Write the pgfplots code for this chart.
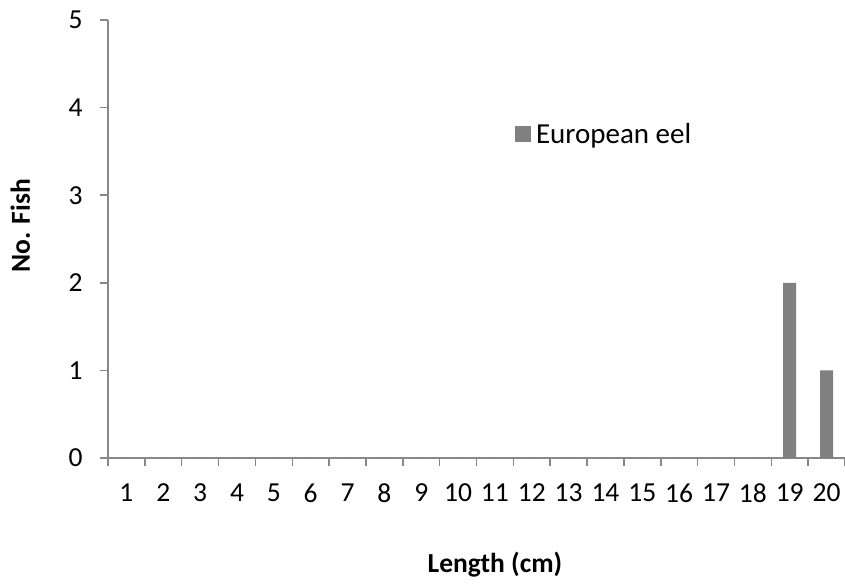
\documentclass[border=0pt]{standalone}
\usepackage{fontspec}
\setmainfont{Carlito}
\usepackage{pgfplots}
\pgfplotsset{compat=1.18}
\definecolor{bargray}{HTML}{808080}
\definecolor{axgray}{HTML}{888888}
\begin{document}
\begin{tikzpicture}
\useasboundingbox (-108pt,-125pt) rectangle (737pt,458pt);
\begin{axis}[
  scale only axis,
  width=737pt, height=438pt,
  xmin=0.5, xmax=20.5,
  ymin=0, ymax=5,
  axis x line=bottom, axis y line=left,
  axis line style={draw=axgray, line width=1.5pt, -},
  xtick={1,...,20},
  minor xtick={0.5,1.5,...,20.5},
  ytick={0,1,2,3,4,5},
  tick align=outside,
  major x tick style={draw=none},
  every tick/.style={draw=axgray, line width=1.5pt},
  minor tick length=8pt,
  major tick length=8pt,
  x tick label style={yshift=-14pt},
  y tick label style={xshift=-14pt},
  /pgf/number format/assume math mode=true,
  tick label style={font=\fontsize{27.5}{32}\selectfont},
  label style={font=\fontsize{27.5}{32}\selectfont\bfseries},
  xlabel={Length (cm)},
  ylabel={No. Fish},
  xlabel style={at={(axis description cs:0.525,-0.244)}, anchor=center},
  ylabel style={at={(axis description cs:-0.119,0.53)}, anchor=center},
  legend style={at={(axis description cs:0.552,0.77)}, anchor=north west, draw=none, fill=none,
    font=\fontsize{29}{34}\selectfont, inner sep=0pt},
  legend cell align=left,
  legend image code/.code={\fill[bargray] (0pt,-8pt) rectangle (16pt,8pt);},
]
\addplot[ybar, bar width=13pt, fill=bargray, draw=none] coordinates {
(1,0) (2,0) (3,0) (4,0) (5,0) (6,0) (7,0) (8,0) (9,0) (10,0)
(11,0) (12,0) (13,0) (14,0) (15,0) (16,0) (17,0) (18,0) (19,2) (20,1)};
\addlegendentry{\hspace{3pt}European eel}
\end{axis}
\end{tikzpicture}
\end{document}
